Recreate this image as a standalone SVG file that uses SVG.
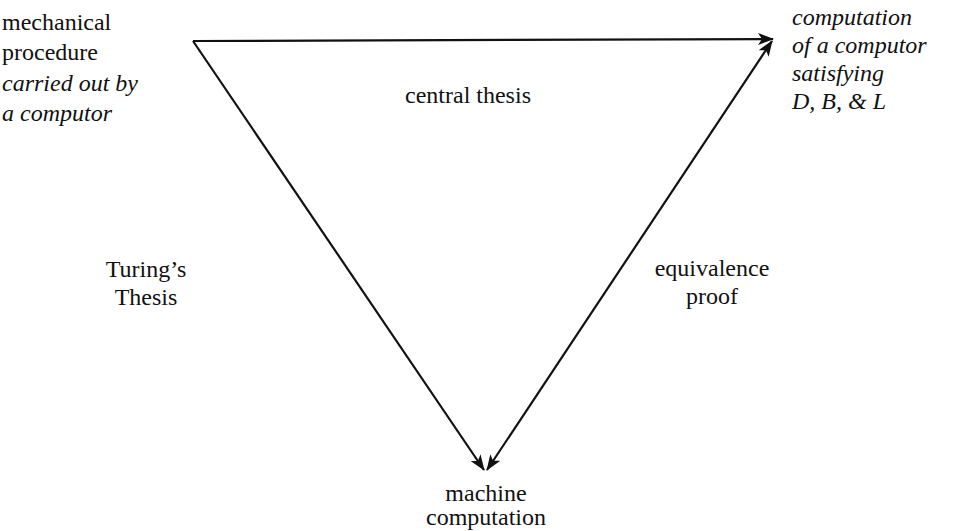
<svg xmlns="http://www.w3.org/2000/svg" width="960" height="531" viewBox="0 0 960 531">
<defs>
<style>
text{font-family:"Liberation Serif","Times New Roman",serif;font-size:24px;fill:#111}
.it{font-style:italic}
.c{text-anchor:middle}
.ln{stroke:#111;stroke-width:2.2;fill:none}
</style>
<marker id="ah" viewBox="0 0 16 12" refX="15" refY="6" markerWidth="16" markerHeight="12" markerUnits="userSpaceOnUse" orient="auto-start-reverse">
<path d="M0,0 L16,6 L0,12 L4,6 Z" fill="#111"/>
</marker>
</defs>
<rect width="960" height="531" fill="#fff"/>
<g id="connectors">
<line class="ln" x1="193" y1="41" x2="773" y2="39" marker-end="url(#ah)"/>
<line class="ln" x1="193" y1="41" x2="484" y2="470" marker-end="url(#ah)"/>
<line class="ln" x1="772" y1="41" x2="487" y2="470" marker-start="url(#ah)" marker-end="url(#ah)"/>
</g>
<g id="node-mechanical">
<text x="2" y="30">mechanical</text>
<text x="2" y="60">procedure</text>
<text x="2" y="91" class="it">carried out by</text>
<text x="2" y="121" class="it">a computor</text>
</g>
<g id="node-computation">
<text x="792" y="25" class="it">computation</text>
<text x="792" y="53" class="it">of a computor</text>
<text x="792" y="81" class="it">satisfying</text>
<text x="792" y="109" class="it">D, B, &amp; L</text>
</g>
<g id="node-machine">
<text x="486" y="501" class="c">machine</text>
<text x="486" y="525" class="c">computation</text>
</g>
<g id="label-central">
<text x="468" y="103" class="c">central thesis</text>
</g>
<g id="label-turing">
<text x="146" y="277" class="c">Turing’s</text>
<text x="146" y="305" class="c">Thesis</text>
</g>
<g id="label-equivalence">
<text x="712" y="276" class="c">equivalence</text>
<text x="712" y="304" class="c">proof</text>
</g>
</svg>
